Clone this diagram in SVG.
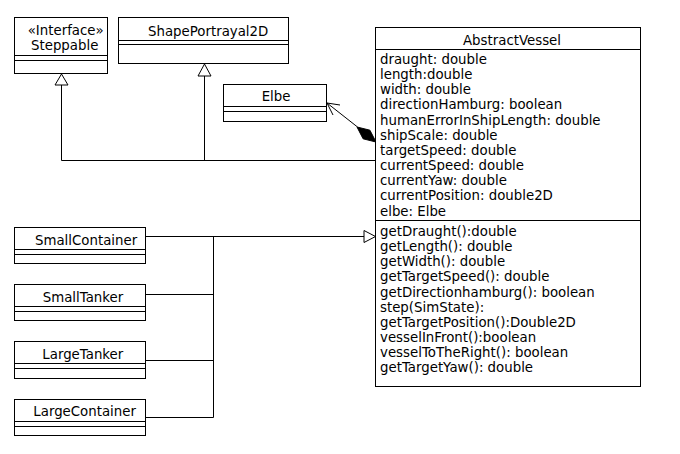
<svg xmlns="http://www.w3.org/2000/svg" width="680" height="454" viewBox="0 0 680 454">
<style>
.box{fill:#fff;stroke:#000;stroke-width:1}
.div{stroke:#000;stroke-width:1}
text{font-family:"DejaVu Sans","Verdana",sans-serif;font-size:13.33px;fill:#000}
.ln{fill:none;stroke:#000;stroke-width:1}
.tri{fill:#fff;stroke:#000;stroke-width:1}
</style>
<rect width="680" height="454" fill="#fff"/>
<g id="connectors">
  <polyline class="ln" points="61.5,85 61.5,160.5 375.5,160.5"/>
  <line class="ln" x1="204.5" y1="76" x2="204.5" y2="160.5"/>
  <polygon class="tri" points="61.5,74 55,85 68,85"/>
  <polygon class="tri" points="204.5,64 198,76 211,76"/>
  <line class="ln" x1="146" y1="236.5" x2="364" y2="236.5"/>
  <line class="ln" x1="146" y1="294.5" x2="213.5" y2="294.5"/>
  <line class="ln" x1="146" y1="360.5" x2="213.5" y2="360.5"/>
  <line class="ln" x1="146" y1="417.5" x2="213.5" y2="417.5"/>
  <line class="ln" x1="213.5" y1="236.5" x2="213.5" y2="417.5"/>
  <polygon class="tri" points="375.5,236.5 364,230.5 364,242.5"/>
  <line class="ln" x1="327" y1="103" x2="357.5" y2="127"/>
  <polyline class="ln" points="340,105 327,103 333,115"/>
  <polygon points="376,142 363.1,138.8 357,127 369.9,130.2" fill="#000" stroke="#000" stroke-width="1"/>
</g>
<g id="steppable">
  <rect class="box" x="14.5" y="17.5" width="93" height="56"/>
  <line class="div" x1="14.5" y1="55.5" x2="107.5" y2="55.5"/>
  <line class="div" x1="14.5" y1="60.5" x2="107.5" y2="60.5"/>
  <text x="27.7" y="34.5">«Interface»</text>
  <text x="31" y="49.5">Steppable</text>
</g>
<g id="shapeportrayal2d">
  <rect class="box" x="118.5" y="17.5" width="170" height="46"/>
  <line class="div" x1="118.5" y1="40.5" x2="288.5" y2="40.5"/>
  <line class="div" x1="118.5" y1="44.5" x2="288.5" y2="44.5"/>
  <text x="148" y="35.5">ShapePortrayal2D</text>
</g>
<g id="elbe">
  <rect class="box" x="223.5" y="84.5" width="103" height="37"/>
  <line class="div" x1="223.5" y1="106.5" x2="326.5" y2="106.5"/>
  <line class="div" x1="223.5" y1="111.5" x2="326.5" y2="111.5"/>
  <text x="261.7" y="100.5">Elbe</text>
</g>
<g id="abstractvessel">
  <rect class="box" x="375.5" y="27.5" width="265" height="359"/>
  <line class="div" x1="375.5" y1="49.5" x2="640.5" y2="49.5"/>
  <line class="div" x1="375.5" y1="220.5" x2="640.5" y2="220.5"/>
  <text x="463" y="44.5">AbstractVessel</text>
  <text x="380" y="64">draught: double</text>
  <text x="380" y="79.15">length:double</text>
  <text x="380" y="94.3">width: double</text>
  <text x="380" y="109.45">directionHamburg: boolean</text>
  <text x="380" y="124.6">humanErrorInShipLength: double</text>
  <text x="380" y="139.75">shipScale: double</text>
  <text x="380" y="154.9">targetSpeed: double</text>
  <text x="380" y="170.05">currentSpeed: double</text>
  <text x="380" y="185.2">currentYaw: double</text>
  <text x="380" y="200.35">currentPosition: double2D</text>
  <text x="380" y="215.5">elbe: Elbe</text>
  <text x="380" y="236">getDraught():double</text>
  <text x="380" y="251.15">getLength(): double</text>
  <text x="380" y="266.3">getWidth(): double</text>
  <text x="380" y="281.45">getTargetSpeed(): double</text>
  <text x="380" y="296.6">getDirectionhamburg(): boolean</text>
  <text x="380" y="311.75">step(SimState):</text>
  <text x="380" y="326.9">getTargetPosition():Double2D</text>
  <text x="380" y="342.05">vesselInFront():boolean</text>
  <text x="380" y="357.2">vesselToTheRight(): boolean</text>
  <text x="380" y="372.35">getTargetYaw(): double</text>
</g>
<g id="smallcontainer">
  <rect class="box" x="14.5" y="227.5" width="131" height="36"/>
  <line class="div" x1="14.5" y1="249.5" x2="145.5" y2="249.5"/>
  <line class="div" x1="14.5" y1="254.5" x2="145.5" y2="254.5"/>
  <text x="35" y="244.5">SmallContainer</text>
</g>
<g id="smalltanker">
  <rect class="box" x="14.5" y="284.5" width="131" height="36"/>
  <line class="div" x1="14.5" y1="306.5" x2="145.5" y2="306.5"/>
  <line class="div" x1="14.5" y1="311.5" x2="145.5" y2="311.5"/>
  <text x="42.7" y="301.8">SmallTanker</text>
</g>
<g id="largetanker">
  <rect class="box" x="14.5" y="341.5" width="131" height="37"/>
  <line class="div" x1="14.5" y1="363.5" x2="145.5" y2="363.5"/>
  <line class="div" x1="14.5" y1="368.5" x2="145.5" y2="368.5"/>
  <text x="42.3" y="359.1">LargeTanker</text>
</g>
<g id="largecontainer">
  <rect class="box" x="14.5" y="399.5" width="131" height="36"/>
  <line class="div" x1="14.5" y1="421.5" x2="145.5" y2="421.5"/>
  <line class="div" x1="14.5" y1="426.5" x2="145.5" y2="426.5"/>
  <text x="33.3" y="416.4">LargeContainer</text>
</g>
</svg>
